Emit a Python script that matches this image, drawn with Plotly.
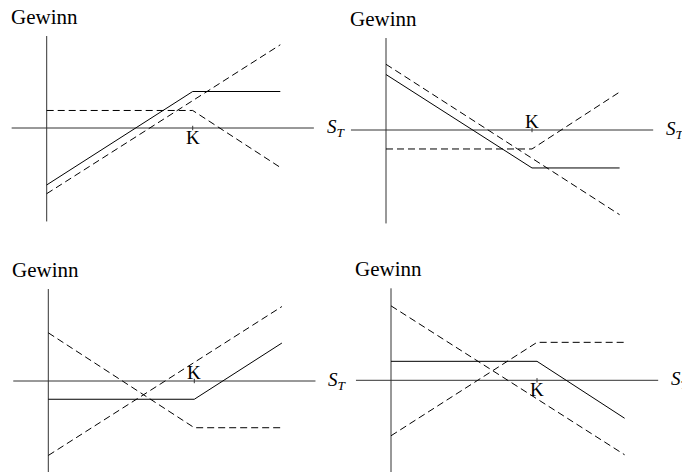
import plotly.graph_objects as go

# ---- data (profit diagrams, strike K = 100) ----
K = 100
x_kink = [0, K, 160]      # S_T points for kinked payoffs
x_line = [0, 160]         # S_T points for straight payoffs

p1_position = [-39, 25, 25]
p1_stock = [-45, 57]
p1_option = [12, 12, -27]

p2_position = [38, -26, -26]
p2_stock = [45, -58]
p2_option = [-13, -13, 26]

p3_position = [-12.5, -12.5, 26]
p3_stock = [-51, 51]
p3_option = [33, -32, -32]

p4_position = [13, 13, -26]
p4_stock = [51, -51]
p4_option = [-38, 26, 26]

axis_x = [-24, 183]
axis_y = [63, -64]
y_label = "Gewinn"
x_label = "<i>S<sub>T</sub></i>"
k_label = "K"
k_label_side = ["below", "above", "above", "below"]

panels = [
    (p1_position, p1_stock, p1_option),
    (p2_position, p2_stock, p2_option),
    (p3_position, p3_stock, p3_option),
    (p4_position, p4_stock, p4_option),
]

# ---- layout geometry ----
W, H = 682, 472
SCALE = 1.46  # px per unit
origins = [(46.7, 128), (386, 130), (48.3, 381), (391, 380.3)]
FONT = "Liberation Serif"

fig = go.Figure()
layout = dict(
    width=W, height=H, autosize=False,
    margin=dict(l=0, r=0, t=0, b=0),
    paper_bgcolor="white", plot_bgcolor="white",
    showlegend=False, annotations=[],
)

for i, (pos, stock, opt) in enumerate(panels):
    r, c = divmod(i, 2)
    ox, oy = origins[i]
    x0p, x1p = c * W / 2, (c + 1) * W / 2
    y0p, y1p = r * H / 2, (r + 1) * H / 2
    xr = [(x0p - ox) / SCALE, (x1p - ox) / SCALE]
    yr = [(oy - y1p) / SCALE, (oy - y0p) / SCALE]
    sfx = "" if i == 0 else str(i + 1)
    layout["xaxis" + sfx] = dict(domain=[x0p / W, x1p / W], range=xr, visible=False, fixedrange=True)
    layout["yaxis" + sfx] = dict(domain=[1 - y1p / H, 1 - y0p / H], range=yr, visible=False, fixedrange=True)
    xa, ya = "x" + sfx, "y" + sfx

    axc = dict(color="#333333", width=1)
    fig.add_trace(go.Scatter(x=axis_x, y=[0, 0], mode="lines", line=axc, xaxis=xa, yaxis=ya, hoverinfo="skip"))
    fig.add_trace(go.Scatter(x=[0, 0], y=axis_y, mode="lines", line=axc, xaxis=xa, yaxis=ya, hoverinfo="skip"))
    fig.add_trace(go.Scatter(x=[K, K], y=[-1.5, 1.5], mode="lines", line=axc, xaxis=xa, yaxis=ya, hoverinfo="skip"))

    dash = dict(color="black", width=1, dash="7px,4px")
    fig.add_trace(go.Scatter(x=x_line, y=stock, mode="lines", line=dash, xaxis=xa, yaxis=ya))
    fig.add_trace(go.Scatter(x=x_kink, y=opt, mode="lines", line=dash, xaxis=xa, yaxis=ya))
    fig.add_trace(go.Scatter(x=x_kink, y=pos, mode="lines", line=dict(color="black", width=1), xaxis=xa, yaxis=ya))

    below = k_label_side[i] == "below"
    layout["annotations"] += [
        dict(x=-26, y=76, xref=xa, yref=ya, text=y_label, showarrow=False,
             xanchor="left", yanchor="middle", font=dict(family=FONT, size=21, color="black")),
        dict(x=190.5, y=0, xref=xa, yref=ya, text=x_label, showarrow=False,
             xanchor="left", yanchor="middle", font=dict(family=FONT, size=19, color="black")),
        dict(x=K, y=(-6.5 if below else 5.5), xref=xa, yref=ya, text=k_label,
             showarrow=False, xanchor="center", yanchor="middle",
             font=dict(family=FONT, size=19, color="black")),
    ]

fig.update_layout(**layout)
fig.write_html("out.html", config={"displayModeBar": False},
               post_script="document.body.style.margin='0';")
